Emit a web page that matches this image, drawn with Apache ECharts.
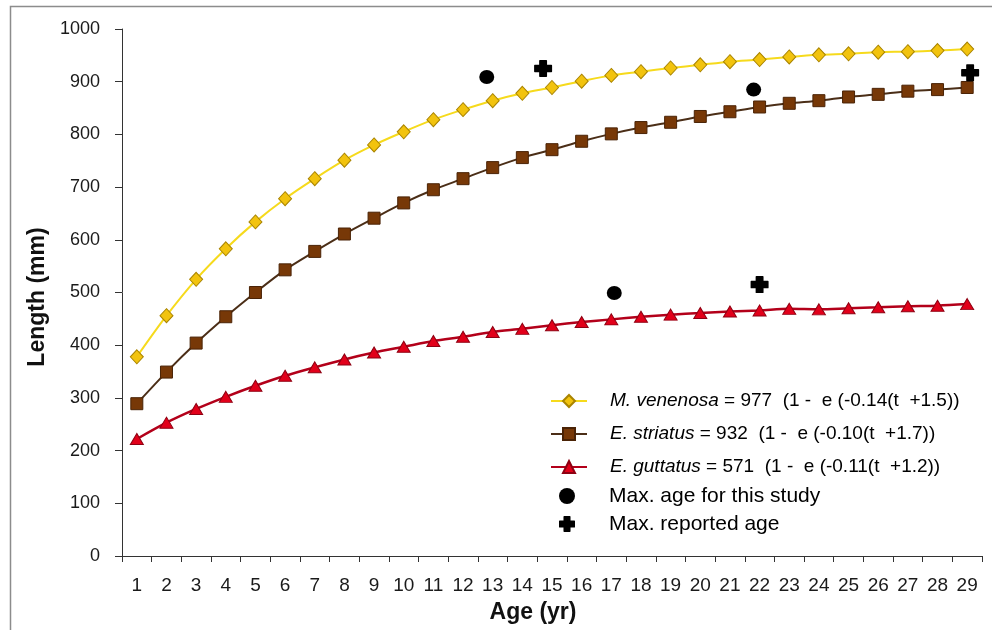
<!DOCTYPE html>
<html>
<head>
<meta charset="utf-8">
<script src="https://cdn.jsdelivr.net/npm/echarts@6/dist/echarts.min.js"></script>
<style>
  html, body { margin: 0; padding: 0; background: #ffffff; }
  #chart { width: 992px; height: 630px; }
</style>
</head>
<body>
<div id="chart"></div>
<script>
// Age classes (years) on the horizontal axis
const ages = ['1','2','3','4','5','6','7','8','9','10','11','12','13','14','15',
              '16','17','18','19','20','21','22','23','24','25','26','27','28','29'];

// Predicted length at age (mm) for each species
const venenosa = [378, 456, 525, 583, 634, 678, 716, 751, 780, 805, 828, 847, 864, 878, 889,
                  901, 912, 919, 926, 932, 938, 942, 947, 951, 953, 956, 957, 959, 962];
const striatus = [289, 349, 404, 454, 500, 543, 578, 611, 641, 670, 695, 716, 737, 756, 771,
                  787, 801, 813, 823, 834, 843, 852, 859, 864, 871, 876, 882, 885, 889];
const guttatus = [222, 253, 279, 302, 323, 342, 358, 373, 386, 397, 408, 416, 425, 431, 438,
                  444, 449, 454, 458, 461, 464, 466, 469, 468, 470, 472, 474, 475, 478];

// Maximum ages: [age (yr), length (mm)]
const studyMaxAge    = [[12.8, 909], [21.8, 885], [17.1, 499]];
const reportedMaxAge = [[14.7, 925], [29.1, 917], [22.0, 515]];

// Growth equations shown beside each species in the legend
const speciesNames = ['M. venenosa', 'E. striatus', 'E. guttatus'];
const equations = [
  ' = 977  (1 -  e (-0.14(t  +1.5))',
  ' = 932  (1 -  e (-0.10(t  +1.7))',
  ' = 571  (1 -  e (-0.11(t  +1.2))'
];
const markerNames = ['Max. age for this study', 'Max. reported age'];

const FONT = 'Liberation Sans, Arial, sans-serif';
const plusPath = 'path://M3.2,0 H6.8 Q7.2,0 7.2,0.4 V2.8 H9.6 Q10,2.8 10,3.2 V6.8 Q10,7.2 9.6,7.2 H7.2 V9.6 Q7.2,10 6.8,10 H3.2 Q2.8,10 2.8,9.6 V7.2 H0.4 Q0,7.2 0,6.8 V3.2 Q0,2.8 0.4,2.8 H2.8 V0.4 Q2.8,0 3.2,0 Z';

const chart = echarts.init(document.getElementById('chart'), null, { renderer: 'canvas' });

function legendText(size, padLeft) {
  return {
    fontSize: size,
    color: '#000',
    fontFamily: FONT,
    lineHeight: 22,
    padding: [0, 0, 0, padLeft],
    rich: {
      i: { fontStyle: 'italic', fontSize: size, fontFamily: FONT, color: '#000', lineHeight: 22 }
    }
  };
}

chart.setOption({
  animation: false,
  backgroundColor: '#ffffff',
  grid: { left: 122, right: 10, top: 29, bottom: 74, containLabel: false },
  xAxis: [
    {
      type: 'category',
      data: ages,
      boundaryGap: true,
      axisLine: { lineStyle: { color: '#333333', width: 1 } },
      axisTick: { show: true, length: 6, lineStyle: { color: '#333333' } },
      axisLabel: { fontSize: 19, color: '#1a1a1a', fontFamily: FONT, margin: 20, interval: 0 },
      splitLine: { show: false }
    },
    { type: 'value', min: 0.5, max: 29.5, show: false }
  ],
  yAxis: {
    type: 'value',
    min: 0,
    max: 1000,
    interval: 100,
    axisLine: { show: true, lineStyle: { color: '#333333', width: 1 } },
    axisTick: { show: true, length: 7, lineStyle: { color: '#333333' } },
    axisLabel: { fontSize: 18, color: '#1a1a1a', fontFamily: FONT, margin: 22,
                 formatter: v => String(v) },
    splitLine: { show: false }
  },
  legend: [
    {
      data: speciesNames,
      orient: 'vertical',
      left: 545,
      top: 385,
      itemWidth: 36,
      itemHeight: 15,
      itemGap: 11,
      selectedMode: false,
      textStyle: legendText(19, 18),
      formatter: name => '{i|' + name + '}' + equations[speciesNames.indexOf(name)]
    },
    {
      data: markerNames,
      orient: 'vertical',
      left: 554,
      top: 480,
      itemWidth: 18,
      itemHeight: 16,
      itemGap: 6,
      selectedMode: false,
      textStyle: legendText(21, 28)
    }
  ],
  graphic: [
    {
      type: 'rect', silent: true, z: -1,
      shape: { x: 10.5, y: 6.5, width: 1000, height: 700 },
      style: { fill: 'none', stroke: '#8c8c8c', lineWidth: 1.5 }
    },
    {
      type: 'text', silent: true, x: 38, y: 297, rotation: Math.PI / 2,
      style: { text: 'Length (mm)', font: 'bold 23px ' + FONT, fill: '#111',
               textAlign: 'center', textVerticalAlign: 'middle' }
    },
    {
      type: 'text', silent: true, x: 533, y: 613,
      style: { text: 'Age (yr)', font: 'bold 23px ' + FONT, fill: '#111',
               textAlign: 'center', textVerticalAlign: 'middle' }
    }
  ],
  series: [
    {
      name: speciesNames[0], type: 'line', data: venenosa, smooth: 0.3,
      symbol: 'diamond', symbolSize: [13, 14],
      lineStyle: { color: '#F6DA1C', width: 2 },
      itemStyle: { color: '#F2C30E', borderColor: '#A98400', borderWidth: 1 },
      z: 3
    },
    {
      name: speciesNames[1], type: 'line', data: striatus, smooth: 0.3,
      symbol: 'rect', symbolSize: 12,
      lineStyle: { color: '#4B2E17', width: 2 },
      itemStyle: { color: '#773807', borderColor: '#4A2306', borderWidth: 1 },
      z: 3
    },
    {
      name: speciesNames[2], type: 'line', data: guttatus, smooth: 0.3,
      symbol: 'triangle', symbolSize: [13, 11],
      lineStyle: { color: '#B3001A', width: 2.5 },
      itemStyle: { color: '#E2001A', borderColor: '#8E0012', borderWidth: 1 },
      z: 3
    },
    {
      name: markerNames[0], type: 'scatter', xAxisIndex: 1, data: studyMaxAge,
      symbol: 'circle', symbolSize: [15, 14],
      itemStyle: { color: '#000000', opacity: 1 },
      z: 4
    },
    {
      name: markerNames[1], type: 'scatter', xAxisIndex: 1, data: reportedMaxAge,
      symbol: plusPath, symbolSize: [18, 17],
      itemStyle: { color: '#000000', opacity: 1 },
      z: 4
    }
  ]
});
</script>
</body>
</html>
